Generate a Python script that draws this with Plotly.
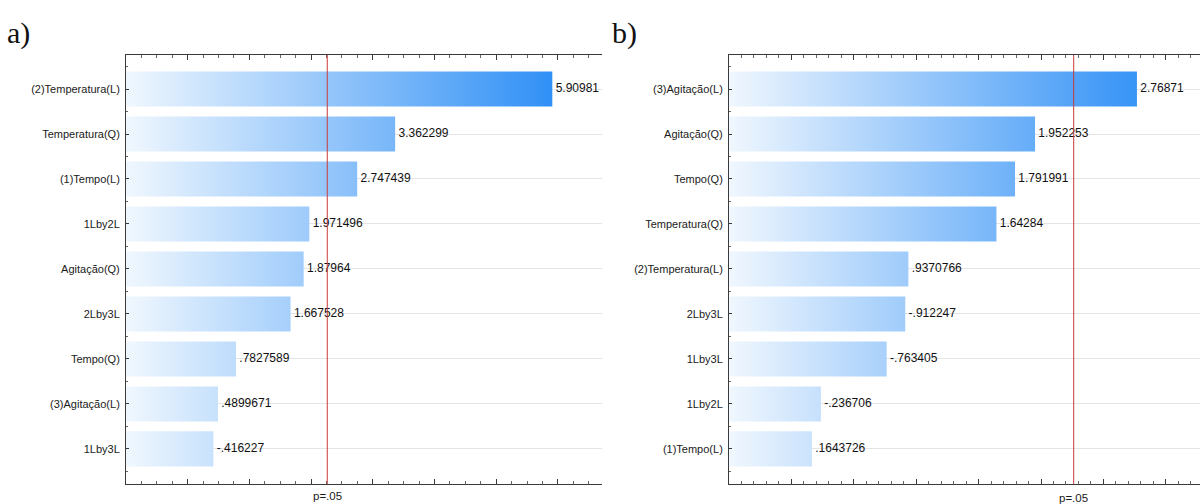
import plotly.graph_objects as go

# Standardized effects (Pareto chart), panel a)
factors_a = ["(2)Temperatura(L)", "Temperatura(Q)", "(1)Tempo(L)", "1Lby2L", "Agitação(Q)",
             "2Lby3L", "Tempo(Q)", "(3)Agitação(L)", "1Lby3L"]
effects_a = [5.90981, 3.362299, 2.747439, 1.971496, 1.87964, 1.667528, 0.7827589, 0.4899671, -0.416227]

# Standardized effects (Pareto chart), panel b)
factors_b = ["(3)Agitação(L)", "Agitação(Q)", "Tempo(Q)", "Temperatura(Q)", "(2)Temperatura(L)",
             "2Lby3L", "1Lby3L", "1Lby2L", "(1)Tempo(L)"]
effects_b = [2.76871, 1.952253, 1.791991, 1.64284, 0.9370766, -0.912247, -0.763405, -0.236706, 0.1643726]

t_crit = 2.262          # critical t at p = .05
p_label = "p=.05"
panel_tags = ["a)", "b)"]

W, H = 1200, 504
FONT = "Liberation Sans, Arial, sans-serif"
AXIS = "#3a3a3a"
GRAD = [[0.0, "rgb(240,247,254)"], [1.0, "rgb(26,132,245)"]]
HALF = 0.39  # half bar thickness in category units


def fmt(v):
    s = f"{v:.7g}"
    if s.startswith("-0."):
        s = "-" + s[2:]
    elif s.startswith("0."):
        s = s[1:]
    return s


panels = [
    dict(names=factors_a, vals=effects_a, xr=[-1.0, 6.715], dom=[126 / W, 602 / W],
         dtick=1.0, minor=0.25, xa="x", ya="y", tag_x=5, p_y=496),
    dict(names=factors_b, vals=effects_b, xr=[-0.5, 3.274], dom=[729 / W, 1.0],
         dtick=0.5, minor=0.1, xa="x2", ya="y2", tag_x=610, p_y=498),
]

fig = go.Figure()
ydom = [(H - 484) / H, (H - 55) / H]
yrange = [8.78, -0.756]

for k, p in enumerate(panels):
    x0, x1 = p["xr"]
    # gradient-filled bars, one per effect (absolute value)
    for i, v in enumerate(p["vals"]):
        L = abs(v)
        fig.add_trace(go.Scatter(
            x=[x0, L, L, x0, x0], y=[i - HALF, i - HALF, i + HALF, i + HALF, i - HALF],
            mode="lines", fill="toself",
            fillgradient=dict(type="horizontal", colorscale=GRAD, start=x0, stop=x1),
            line=dict(width=0, color="rgba(0,0,0,0)"),
            xaxis=p["xa"], yaxis=p["ya"], showlegend=False, hoverinfo="skip"))
    # value labels
    fig.add_trace(go.Scatter(
        x=[abs(v) for v in p["vals"]], y=list(range(len(p["vals"]))),
        mode="text", text=[" " + fmt(v) for v in p["vals"]], textposition="middle right",
        textfont=dict(family=FONT, size=12, color="#111"), cliponaxis=True,
        xaxis=p["xa"], yaxis=p["ya"], showlegend=False, hoverinfo="skip"))

    sfx = "" if k == 0 else "2"
    fig.update_layout(**{
        "xaxis" + sfx: dict(
            domain=p["dom"], range=p["xr"], anchor="y" + sfx, showticklabels=False,
            showline=True, linecolor=AXIS, linewidth=1, mirror="ticks",
            ticks="inside", ticklen=5, tickcolor=AXIS, tick0=0, dtick=p["dtick"],
            minor=dict(ticks="inside", ticklen=3, tickcolor="#666", dtick=p["minor"], tick0=0),
            showgrid=False, zeroline=False),
        "yaxis" + sfx: dict(
            domain=ydom, range=yrange, anchor="x" + sfx,
            tickmode="array", tickvals=list(range(len(p["names"]))), ticktext=p["names"],
            tickfont=dict(family=FONT, size=11, color="#1a1a1a"), ticklabelstandoff=3,
            showline=True, linecolor=AXIS, linewidth=1,
            ticks="inside", ticklen=3, tickcolor=AXIS,
            minor=dict(ticks="inside", ticklen=2, tickcolor="#666",
                       tickvals=[i + 0.5 for i in range(-1, len(p["names"]))]),
            showgrid=True, gridcolor="#e4e4e4", gridwidth=1, zeroline=False),
    })

    fig.add_shape(type="line", xref=p["xa"], yref=p["ya"] + " domain",
                  x0=t_crit, x1=t_crit, y0=0, y1=1,
                  line=dict(color="#c83a3a", width=1))
    fig.add_annotation(x=t_crit, xref=p["xa"], y=(H - p["p_y"]) / H, yref="paper",
                       text=p_label, showarrow=False, xanchor="center", yanchor="middle",
                       font=dict(family=FONT, size=11.5, color="#1a1a1a"))
    fig.add_annotation(x=p["tag_x"] / W, xref="paper", y=(H - 33) / H, yref="paper",
                       text=panel_tags[k], showarrow=False, xanchor="left", yanchor="middle",
                       font=dict(family="Liberation Serif, Times New Roman, serif", size=30,
                                 color="#111"))

fig.update_layout(width=W, height=H, margin=dict(l=0, r=0, t=0, b=0),
                  paper_bgcolor="white", plot_bgcolor="white", showlegend=False)

fig.write_html("out.html")
